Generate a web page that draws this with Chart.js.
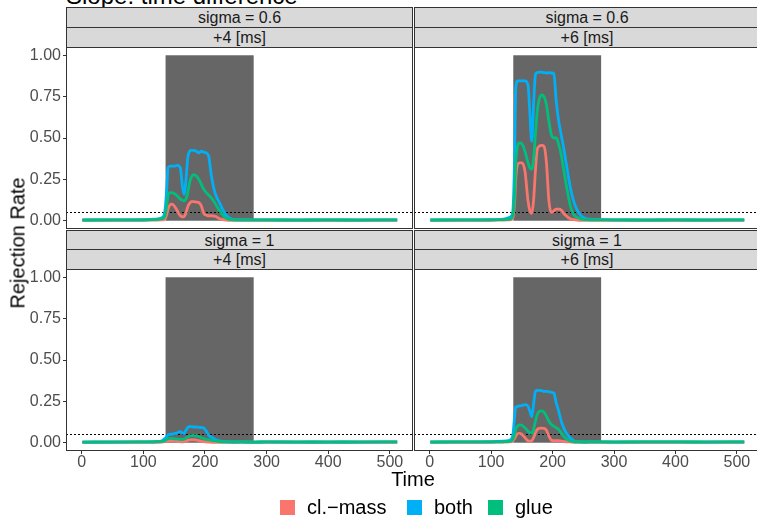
<!DOCTYPE html>
<html>
<head>
<meta charset="utf-8">
<script src="https://cdn.jsdelivr.net/npm/chart.js@4.4.1/dist/chart.umd.min.js"></script>
<style>
  body { margin: 0; width: 757px; height: 519px; overflow: hidden; background: #fff; position: relative;
         font-family: "Liberation Sans", Arial, sans-serif; }
  .box { position: absolute; }
  .strip { position: absolute; background: #d9d9d9; border: 1px solid #333; box-sizing: border-box;
           text-align: center; font-size: 16px; color: #1a1a1a; line-height: 19px; }
  .lab { position: absolute; white-space: nowrap; color: #000; }
</style>
</head>
<body>
<div class="lab" style="left:66px; top:-16px; font-size:24px; line-height:24px;">Slope: time difference</div>

<div class="strip" style="left:66px; top:7px; width:347px; height:21px;">sigma = 0.6</div>
<div class="strip" style="left:66px; top:27px; width:347px; height:21px;">+4 [ms]</div>
<div class="strip" style="left:414px; top:7px; width:346px; height:21px;">sigma = 0.6</div>
<div class="strip" style="left:414px; top:27px; width:346px; height:21px;">+6 [ms]</div>
<div class="strip" style="left:66px; top:230px; width:347px; height:21px;">sigma = 1</div>
<div class="strip" style="left:66px; top:249px; width:347px; height:21px;">+4 [ms]</div>
<div class="strip" style="left:414px; top:230px; width:346px; height:21px;">sigma = 1</div>
<div class="strip" style="left:414px; top:249px; width:346px; height:21px;">+6 [ms]</div>

<div class="box" style="left:0; top:47px; width:413px; height:182px;"><canvas id="c-tl"></canvas></div>
<div class="box" style="left:414px; top:47px; width:346px; height:182px;"><canvas id="c-tr"></canvas></div>
<div class="box" style="left:0; top:269px; width:413px; height:206px;"><canvas id="c-bl"></canvas></div>
<div class="box" style="left:414px; top:269px; width:346px; height:206px;"><canvas id="c-br"></canvas></div>

<div class="lab" style="left:18px; top:243px; font-size:20px; transform:translate(-50%,-50%) rotate(-90deg);">Rejection Rate</div>
<div class="lab" style="left:413px; top:479px; font-size:20px; transform:translate(-50%,-50%);">Time</div>
<div id="legend"></div>

<script>
const time = [1, 50, 100, 120, 130, 135, 138, 140, 143, 146, 150, 155, 160, 163, 166, 169, 172, 175, 178, 182,
  186, 190, 194, 198, 202, 206, 210, 214, 218, 222, 226, 230, 235, 240, 245, 250, 260, 280, 300, 350, 400, 450, 512];

const seriesNames = ["cl.\u2212mass", "both", "glue"];
const seriesColors = ["#F8766D", "#00B0F6", "#00BF7D"];

const xTicks = [0, 100, 200, 300, 400, 500];
const yTicks = [0, 0.25, 0.5, 0.75, 1];
const stimStart = 136;
const stimEnd = 279;
const alphaLevel = 0.05;

// sigma = 0.6, +4 ms
const mass_s06_p4 = [0.003,0.003,0.003,0.004,0.005,0.01,0.04,0.07,0.095,0.1,0.09,0.06,0.03,0.024,0.025,0.045,0.085,0.105,0.115,0.116,
  0.113,0.11,0.09,0.045,0.033,0.03,0.03,0.028,0.025,0.015,0.01,0.006,0.004,0.003,0.003,0.003,0.003,0.003,0.003,0.003,0.003,0.003,0.003];
const both_s06_p4 = [0.005,0.005,0.006,0.01,0.018,0.06,0.2,0.32,0.33,0.33,0.33,0.335,0.32,0.22,0.16,0.24,0.38,0.42,0.425,0.425,
  0.42,0.41,0.42,0.415,0.41,0.39,0.28,0.2,0.15,0.12,0.09,0.06,0.03,0.015,0.008,0.006,0.005,0.005,0.005,0.005,0.005,0.005,0.005];
const glue_s06_p4 = [0.004,0.005,0.005,0.008,0.012,0.03,0.1,0.15,0.17,0.17,0.165,0.15,0.13,0.125,0.12,0.13,0.17,0.23,0.265,0.278,
  0.27,0.25,0.22,0.19,0.17,0.155,0.14,0.12,0.095,0.07,0.05,0.03,0.015,0.008,0.006,0.005,0.005,0.005,0.005,0.004,0.005,0.004,0.005];

// sigma = 0.6, +6 ms
const mass_s06_p6 = [0.003,0.003,0.003,0.004,0.005,0.015,0.1,0.25,0.34,0.35,0.35,0.3,0.12,0.06,0.045,0.12,0.3,0.43,0.45,0.455,
  0.45,0.35,0.12,0.05,0.06,0.07,0.07,0.065,0.045,0.03,0.018,0.01,0.006,0.004,0.003,0.003,0.003,0.003,0.003,0.003,0.003,0.003,0.003];
const both_s06_p6 = [0.005,0.005,0.006,0.01,0.02,0.05,0.35,0.8,0.845,0.845,0.845,0.845,0.82,0.65,0.48,0.7,0.88,0.895,0.898,0.898,
  0.895,0.893,0.895,0.893,0.89,0.72,0.6,0.52,0.44,0.35,0.26,0.18,0.11,0.065,0.035,0.02,0.01,0.007,0.005,0.005,0.005,0.005,0.005];
const glue_s06_p6 = [0.004,0.005,0.005,0.007,0.01,0.03,0.15,0.35,0.45,0.47,0.465,0.42,0.35,0.32,0.31,0.37,0.52,0.66,0.73,0.76,
  0.75,0.7,0.6,0.52,0.5,0.5,0.46,0.4,0.31,0.22,0.14,0.075,0.035,0.02,0.012,0.008,0.006,0.005,0.005,0.004,0.005,0.004,0.005];

// sigma = 1, +4 ms
const mass_s1_p4 = [0.003,0.003,0.003,0.003,0.004,0.006,0.008,0.009,0.011,0.012,0.011,0.008,0.006,0.005,0.006,0.01,0.014,0.017,0.018,0.018,
  0.016,0.013,0.009,0.006,0.005,0.004,0.003,0.003,0.003,0.003,0.003,0.003,0.003,0.003,0.003,0.003,0.003,0.003,0.003,0.003,0.003,0.003,0.003];
const both_s1_p4 = [0.004,0.005,0.005,0.007,0.012,0.025,0.04,0.048,0.05,0.052,0.055,0.06,0.067,0.06,0.055,0.075,0.092,0.097,0.097,0.095,
  0.095,0.093,0.092,0.09,0.07,0.045,0.035,0.025,0.018,0.013,0.01,0.008,0.006,0.005,0.005,0.004,0.005,0.004,0.005,0.004,0.005,0.004,0.005];
const glue_s1_p4 = [0.004,0.004,0.005,0.006,0.008,0.012,0.02,0.024,0.026,0.026,0.024,0.022,0.02,0.02,0.022,0.028,0.035,0.04,0.043,0.043,
  0.04,0.036,0.03,0.025,0.02,0.018,0.015,0.012,0.01,0.008,0.006,0.005,0.005,0.005,0.004,0.005,0.005,0.004,0.005,0.005,0.004,0.005,0.005];

// sigma = 1, +6 ms
const mass_s1_p6 = [0.003,0.003,0.003,0.004,0.005,0.01,0.025,0.04,0.055,0.057,0.05,0.03,0.012,0.01,0.012,0.03,0.06,0.08,0.087,0.088,
  0.087,0.075,0.04,0.015,0.012,0.012,0.012,0.01,0.008,0.006,0.005,0.004,0.003,0.003,0.003,0.003,0.003,0.003,0.003,0.003,0.003,0.003,0.003];
const both_s1_p6 = [0.005,0.005,0.006,0.009,0.015,0.04,0.15,0.215,0.22,0.222,0.225,0.23,0.22,0.19,0.158,0.23,0.31,0.316,0.316,0.315,
  0.31,0.31,0.308,0.305,0.3,0.24,0.19,0.13,0.09,0.06,0.04,0.025,0.01,0.007,0.005,0.005,0.005,0.005,0.005,0.005,0.005,0.005,0.005];
const glue_s1_p6 = [0.004,0.005,0.005,0.006,0.008,0.02,0.05,0.08,0.1,0.108,0.105,0.09,0.07,0.06,0.057,0.08,0.13,0.17,0.188,0.193,
  0.185,0.16,0.13,0.11,0.1,0.09,0.08,0.06,0.04,0.025,0.015,0.009,0.006,0.005,0.005,0.004,0.005,0.005,0.004,0.005,0.005,0.004,0.005];

const FONT = "'Liberation Sans', Arial, sans-serif";

const panelPlugin = {
  id: "panel",
  beforeDatasetsDraw(chart) {
    const { ctx, chartArea: a, scales: { x, y } } = chart;
    ctx.save();
    ctx.beginPath();
    ctx.rect(a.left, a.top, a.width, a.height);
    ctx.clip();
    const x0 = x.getPixelForValue(stimStart);
    const x1 = x.getPixelForValue(stimEnd);
    const y0 = y.getPixelForValue(1);
    const y1 = y.getPixelForValue(0);
    ctx.fillStyle = "#666666";
    ctx.fillRect(x0, y0, x1 - x0, y1 - y0);
    const yl = Math.round(y.getPixelForValue(alphaLevel)) + 0.5;
    ctx.strokeStyle = "#000";
    ctx.lineWidth = 1;
    ctx.setLineDash([2, 2]);
    ctx.beginPath();
    ctx.moveTo(a.left, yl);
    ctx.lineTo(a.right, yl);
    ctx.stroke();
    ctx.restore();
  },
  afterDraw(chart) {
    const { ctx, chartArea: a } = chart;
    ctx.save();
    ctx.strokeStyle = "#333333";
    ctx.lineWidth = 1;
    ctx.strokeRect(a.left + 0.5, a.top + 0.5, a.width - 1, a.height - 1);
    ctx.restore();
  }
};

function makePanel(id, values, showY, showX) {
  // first dataset is drawn last in Chart.js, so glue gets the lowest order (on top)
  const datasets = values.map((vals, i) => ({
    label: seriesNames[i],
    data: time.map((t, k) => ({ x: t, y: vals[k] })),
    borderColor: seriesColors[i],
    backgroundColor: seriesColors[i],
    borderWidth: 2.8,
    pointRadius: 0,
    cubicInterpolationMode: "monotone",
    fill: false,
    order: values.length - 1 - i
  }));

  new Chart(document.getElementById(id), {
    type: "line",
    data: { datasets },
    options: {
      responsive: true,
      maintainAspectRatio: false,
      animation: false,
      layout: { padding: 0 },
      plugins: { legend: { display: false }, tooltip: { enabled: false } },
      scales: {
        x: {
          type: "linear",
          min: -25.6,
          max: 537.6,
          display: showX,
          afterBuildTicks: (s) => { s.ticks = xTicks.map((v) => ({ value: v })); },
          afterFit: (s) => {
            s.height = showX ? 24 : 0;
            s.paddingLeft = 0;
            s.paddingRight = 0;
          },
          grid: { drawOnChartArea: false, drawTicks: true, tickLength: 3, color: "#333" },
          border: { display: false },
          ticks: { color: "#4d4d4d", padding: -1, maxRotation: 0, font: { size: 16, family: FONT } }
        },
        y: {
          min: -0.05,
          max: 1.05,
          display: showY,
          afterBuildTicks: (s) => { s.ticks = yTicks.map((v) => ({ value: v })); },
          afterFit: (s) => {
            s.width = showY ? 66 : 0;
            s.paddingTop = 0;
            s.paddingBottom = 0;
          },
          grid: { drawOnChartArea: false, drawTicks: true, tickLength: 3, color: "#333" },
          border: { display: false },
          ticks: { color: "#4d4d4d", padding: 2, font: { size: 16, family: FONT },
                   callback: (v) => Number(v).toFixed(2) }
        }
      }
    },
    plugins: [panelPlugin]
  });
}

makePanel("c-tl", [mass_s06_p4, both_s06_p4, glue_s06_p4], true, false);
makePanel("c-tr", [mass_s06_p6, both_s06_p6, glue_s06_p6], false, false);
makePanel("c-bl", [mass_s1_p4, both_s1_p4, glue_s1_p4], true, true);
makePanel("c-br", [mass_s1_p6, both_s1_p6, glue_s1_p6], false, true);

// legend
const legend = document.getElementById("legend");
const legendX = [280, 407, 488];
seriesNames.forEach((name, i) => {
  const sw = document.createElement("div");
  sw.style.cssText = `position:absolute; left:${legendX[i]}px; top:500px; width:15px; height:15px; background:${seriesColors[i]};`;
  legend.appendChild(sw);
  const tx = document.createElement("div");
  tx.className = "lab";
  tx.style.cssText = `left:${legendX[i] + 27}px; top:507px; font-size:20px; transform:translateY(-50%);`;
  tx.textContent = name;
  legend.appendChild(tx);
});
</script>
</body>
</html>
